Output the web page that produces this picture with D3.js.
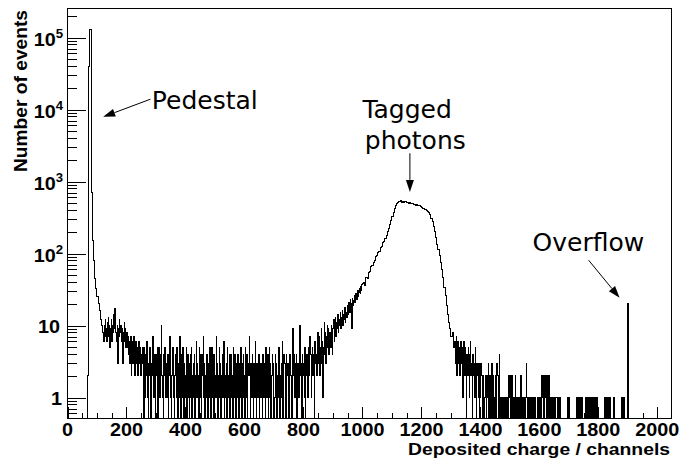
<!DOCTYPE html>
<html><head><meta charset="utf-8">
<script src="https://cdn.jsdelivr.net/npm/d3@7"></script>
<style>body{margin:0;background:#fff}svg{display:block}</style>
</head><body>
<svg id="chart" width="679" height="459"></svg>
<script>
// ---------------- data (counts) ----------------
// channels 64 .. 120, 4-channel bins
const pedestalCounts = [0, 2, 39000, 130000, 700, 150, 80, 45, 33, 25, 20, 16, 12, 10];
// channels 120 .. 256, 2-channel bins
const pedestalTailCounts = [8, 6, 10, 7, 12, 9, 6, 11, 8, 13, 7, 10, 5, 9, 12, 6, 10, 8, 14, 9,
  17, 11, 8, 6, 10, 3, 9, 7, 12, 8, 10, 6, 9, 4, 3, 8, 11, 6, 9, 5,
  8, 5, 7, 4, 6, 3, 5, 7, 2, 6, 4, 3, 7, 5, 2, 4, 6, 3, 5, 2,
  4, 6, 3, 5, 2, 4, 3, 5];
// channels 256 .. 852, 2-channel bins
const plateauCounts = [2, 0, 5, 1, 4, 2, 6, 1, 3, 0, 2, 5, 1, 0, 3, 2, 7, 1, 4, 2,
  1, 0, 4, 2, 5, 0, 2, 5, 1, 3, 4, 10, 2, 1, 0, 4, 2, 5, 1, 3,
  2, 1, 4, 0, 2, 7, 3, 1, 0, 2, 5, 3, 1, 0, 2, 4, 1, 5, 2, 0,
  3, 1, 7, 2, 0, 4, 1, 5, 2, 0, 3, 2, 1, 5, 0, 2, 4, 1, 0, 3,
  4, 1, 5, 0, 2, 3, 1, 4, 0, 2, 6, 1, 3, 2, 0, 5, 1, 2, 4, 0,
  2, 4, 7, 1, 3, 0, 2, 1, 4, 2, 0, 3, 1, 5, 2, 0, 5, 1, 4, 2,
  0, 4, 1, 2, 7, 1, 3, 0, 2, 5, 1, 3, 0, 2, 4, 1, 3, 6, 0, 2,
  1, 3, 0, 5, 2, 1, 4, 0, 2, 4, 1, 2, 0, 5, 1, 4, 2, 0, 3, 1,
  2, 4, 0, 3, 1, 2, 5, 0, 3, 1, 4, 2, 0, 5, 2, 1, 4, 0, 2, 3,
  7, 2, 0, 3, 1, 4, 2, 0, 3, 1, 6, 2, 0, 3, 1, 2, 4, 0, 3, 2,
  1, 3, 0, 4, 2, 1, 3, 0, 5, 2, 1, 4, 0, 2, 5, 1, 3, 0, 2, 4,
  2, 3, 0, 1, 4, 2, 3, 0, 2, 1, 5, 3, 0, 2, 1, 3, 6, 0, 2, 4,
  3, 1, 0, 4, 2, 3, 1, 0, 3, 4, 2, 1, 0, 3, 9, 2, 4, 1, 3, 2,
  4, 0, 3, 2, 1, 4, 10, 2, 3, 0, 4, 2, 3, 1, 5, 0, 3, 2, 4, 1,
  3, 5, 2, 7, 4, 1, 3, 5, 2, 4, 0, 6, 3, 4, 2, 5, 8, 3];
// channels 852 .. 1000, 2-channel bins (rising edge)
const risingCounts = [4, 7, 2, 5, 9, 3, 6, 1, 5, 11, 4, 8, 3, 7, 10, 5, 9, 4, 6, 8,
  5, 10, 7, 4, 9, 12, 6, 8, 13, 7, 11, 9, 14, 8, 12, 10, 15, 9, 13, 11,
  16, 10, 14, 12, 18, 11, 15, 13, 19, 14, 17, 21, 15, 23, 18, 20, 9, 24, 19, 22,
  26, 21, 24, 28, 23, 27, 31, 25, 29, 33, 28, 35, 31, 37];
// channels 1000 .. 1312, 4-channel bins (tagged photon peak)
const peakCounts = [38, 40, 36, 47, 45, 55, 56, 65, 68, 76, 79, 90, 93, 104, 108, 120, 126, 140, 146,
  162, 178, 200, 225, 255, 290, 330, 375, 420, 460, 495, 515,
  525, 538, 518, 532, 512, 527, 503, 514, 496, 507, 488, 497, 478, 487, 468, 474,
  458, 457, 446, 442, 428, 421, 408, 400, 386, 375,
  345, 310, 275, 240, 200, 165, 135, 115, 95, 76, 60, 46, 34, 26, 19, 14, 11, 9, 7, 8, 5];
// channels 1312 .. 1908, 2-channel bins (tail and overflow)
const tailCounts = [6, 3, 5, 7, 2, 4, 6, 3, 5, 2, 4, 6, 3, 5, 1, 4, 6, 2, 5, 3,
  0, 4, 2, 5, 3, 1, 4, 6, 2, 3, 0, 4, 2, 3, 1, 5, 2, 0, 3, 2,
  1, 3, 0, 2, 1, 3, 2, 0, 1, 2, 0, 1, 2, 1, 0, 2, 1, 3, 0, 1,
  2, 0, 1, 3, 1, 0, 2, 1, 0, 1, 2, 0, 3, 2, 1, 0, 4, 1, 0, 1,
  0, 1, 1, 0, 1, 0, 1, 0, 0, 1, 0, 1, 2, 1, 2, 0, 2, 1, 2, 0,
  1, 0, 1, 2, 0, 1, 0, 1, 1, 0, 1, 0, 2, 1, 0, 1, 0, 1, 0, 1,
  0, 1, 3, 1, 0, 1, 0, 1, 0, 1, 1, 0, 1, 0, 1, 0, 1, 0, 0, 0,
  0, 1, 0, 1, 1, 0, 1, 0, 2, 1, 2, 0, 1, 2, 1, 2, 0, 2, 1, 0,
  2, 1, 0, 1, 0, 1, 1, 0, 1, 0, 1, 0, 1, 1, 0, 1, 0, 1, 0, 1,
  0, 0, 0, 0, 0, 0, 0, 0, 0, 0, 0, 0, 1, 0, 1, 0, 0, 0, 0, 0,
  0, 0, 0, 0, 0, 0, 0, 1, 0, 1, 1, 0, 1, 0, 1, 0, 1, 0, 0, 0,
  0, 0, 0, 1, 0, 1, 0, 1, 1, 0, 1, 0, 1, 0, 1, 1, 0, 1, 0, 1,
  0, 1, 0, 0, 0, 0, 0, 0, 0, 0, 0, 0, 0, 0, 1, 0, 1, 1, 0, 1,
  0, 1, 0, 1, 1, 0, 0, 0, 0, 0, 1, 0, 0, 0, 0, 0, 0, 0, 0, 0,
  0, 0, 0, 0, 1, 0, 1, 1, 0, 0, 0, 0, 0, 0, 20, 0, 0, 0];

const segmentStarts = [64, 120, 256, 852, 1000, 1312];
const segmentWidths = [4, 2, 2, 2, 4, 2];

const xTickValues = [0, 200, 400, 600, 800, 1000, 1200, 1400, 1600, 1800, 2000];
const yTickExponents = [0, 1, 2, 3, 4, 5];
const xTitle = "Deposited charge / channels";
const yTitle = "Number of events";
const annotationTexts = ["Pedestal", "Tagged", "photons", "Overflow"];

// ---------------- layout ----------------
const L = 67.5, R = 671.5, T = 8.5, B = 418.5;
const svg = d3.select("#chart");
svg.append("rect").attr("width", 679).attr("height", 459).attr("fill", "#fff");

const x = d3.scaleLinear().domain([0, 2048]).range([L, R]);
const y = d3.scaleLog().domain([0.511, 252800]).range([B, T]);

const segments = [pedestalCounts, pedestalTailCounts, plateauCounts, risingCounts, peakCounts, tailCounts];
const bins = [];
segments.forEach((arr, s) => arr.forEach((c, i) => {
  const x0 = segmentStarts[s] + i * segmentWidths[s];
  bins.push({x0, x1: x0 + segmentWidths[s], c});
}));
const yv = c => c > 0 ? y(c) : B;

// histogram step line
const pts = [[x(bins[0].x0), B]];
bins.forEach(b => { pts.push([x(b.x0), yv(b.c)]); pts.push([x(b.x1), yv(b.c)]); });
pts.push([x(bins[bins.length - 1].x1), B]);
svg.append("path")
  .attr("d", d3.line()(pts))
  .attr("fill", "none").attr("stroke", "#000").attr("stroke-width", 1)
  .attr("shape-rendering", "crispEdges");

// ---------------- axes (ROOT style, ticks inside) ----------------
const xMinor = d3.range(0, 2049, 50).filter(v => v % 200 !== 0);
const gx = svg.append("g").attr("transform", `translate(0,${B})`).attr("shape-rendering", "crispEdges");
gx.call(d3.axisBottom(x).tickValues(xMinor).tickSize(-6).tickFormat(""));
gx.call(g => g.select(".domain").remove());
const gx2 = svg.append("g").attr("transform", `translate(0,${B})`).attr("shape-rendering", "crispEdges");
gx2.call(d3.axisBottom(x).tickValues(xTickValues).tickSize(-12).tickFormat(""));
gx2.call(g => g.select(".domain").remove());

const yMinor = [];
for (let e = -1; e <= 5; e++) for (let m = 2; m <= 9; m++) {
  const v = m * Math.pow(10, e);
  if (v >= 0.511 && v <= 252800) yMinor.push(v);
}
const gy = svg.append("g").attr("transform", `translate(${L},0)`).attr("shape-rendering", "crispEdges");
gy.call(d3.axisLeft(y).tickValues(yMinor).tickSize(-9).tickFormat(""));
gy.call(g => g.select(".domain").remove());
const gy2 = svg.append("g").attr("transform", `translate(${L},0)`).attr("shape-rendering", "crispEdges");
gy2.call(d3.axisLeft(y).tickValues(yTickExponents.map(e => Math.pow(10, e))).tickSize(-18).tickFormat(""));
gy2.call(g => g.select(".domain").remove());
svg.selectAll(".tick line").attr("stroke", "#000");

// frame
svg.append("rect").attr("x", L).attr("y", T).attr("width", R - L).attr("height", B - T)
  .attr("fill", "none").attr("stroke", "#000").attr("stroke-width", 1).attr("shape-rendering", "crispEdges");

// ---------------- labels ----------------
const labFont = "'Liberation Sans', Arial, Helvetica, sans-serif";
const sx = 1.1;
xTickValues.forEach(v => {
  svg.append("text").attr("transform", `translate(${x(v)},436) scale(${sx},1)`)
    .attr("text-anchor", "middle").attr("font-family", labFont).attr("font-weight", "bold")
    .attr("font-size", 18).attr("fill", "#000").text(v);
});
yTickExponents.forEach(e => {
  const yy = y(Math.pow(10, e));
  if (e === 0 || e === 1) {
    svg.append("text").attr("transform", `translate(${e === 0 ? 62 : 60},${yy + 7.5}) scale(${sx},1)`)
      .attr("text-anchor", "end").attr("font-family", labFont).attr("font-weight", "bold")
      .attr("font-size", 18).attr("fill", "#000").text(e === 0 ? "1" : "10");
  } else {
    const t = svg.append("text").attr("transform", `translate(63,${yy + 8}) scale(${sx},1)`)
      .attr("text-anchor", "end").attr("font-family", labFont).attr("font-weight", "bold")
      .attr("font-size", 18).attr("fill", "#000");
    t.append("tspan").text("10");
    t.append("tspan").attr("font-size", 12).attr("dy", -8).text(e);
  }
});
svg.append("text").attr("x", 670).attr("y", 454.5).attr("text-anchor", "end")
  .attr("font-family", labFont).attr("font-weight", "bold").attr("font-size", 16.5)
  .attr("textLength", 262).attr("lengthAdjust", "spacingAndGlyphs").text(xTitle);
svg.append("text").attr("transform", "translate(26.5,10) rotate(-90)").attr("text-anchor", "end")
  .attr("font-family", labFont).attr("font-weight", "bold").attr("font-size", 18)
  .attr("textLength", 162).attr("lengthAdjust", "spacingAndGlyphs").text(yTitle);

// ---------------- annotations ----------------
const annFont = "'DejaVu Sans', Verdana, sans-serif";
function arrow(c0, v0, c1, v1) {
  const x0 = x(c0), y0 = y(v0), x1 = x(c1), y1 = y(v1);
  const dx = x1 - x0, dy = y1 - y0, len = Math.hypot(dx, dy);
  const ux = dx / len, uy = dy / len, hl = 12, hw = 4;
  const bx = x1 - ux * hl, by = y1 - uy * hl;
  svg.append("line").attr("x1", x0).attr("y1", y0).attr("x2", bx).attr("y2", by)
    .attr("stroke", "#000").attr("stroke-width", 1);
  svg.append("path").attr("d", `M${x1},${y1}L${bx - uy * hw},${by + ux * hw}L${bx + uy * hw},${by - ux * hw}Z`)
    .attr("fill", "#000");
}
function note(txt, c, v) {
  svg.append("text").attr("x", x(c)).attr("y", y(v)).attr("font-family", annFont)
    .attr("font-size", 25).attr("fill", "#000").text(txt);
}
note(annotationTexts[0], 286, 10300);
arrow(281, 13900, 121, 7900);
note(annotationTexts[1], 1000, 7620);
note(annotationTexts[2], 1008, 2825);
arrow(1161, 2470, 1161, 717);
note(annotationTexts[3], 1577, 110);
arrow(1767, 80.7, 1872, 24.2);
</script>
</body></html>
